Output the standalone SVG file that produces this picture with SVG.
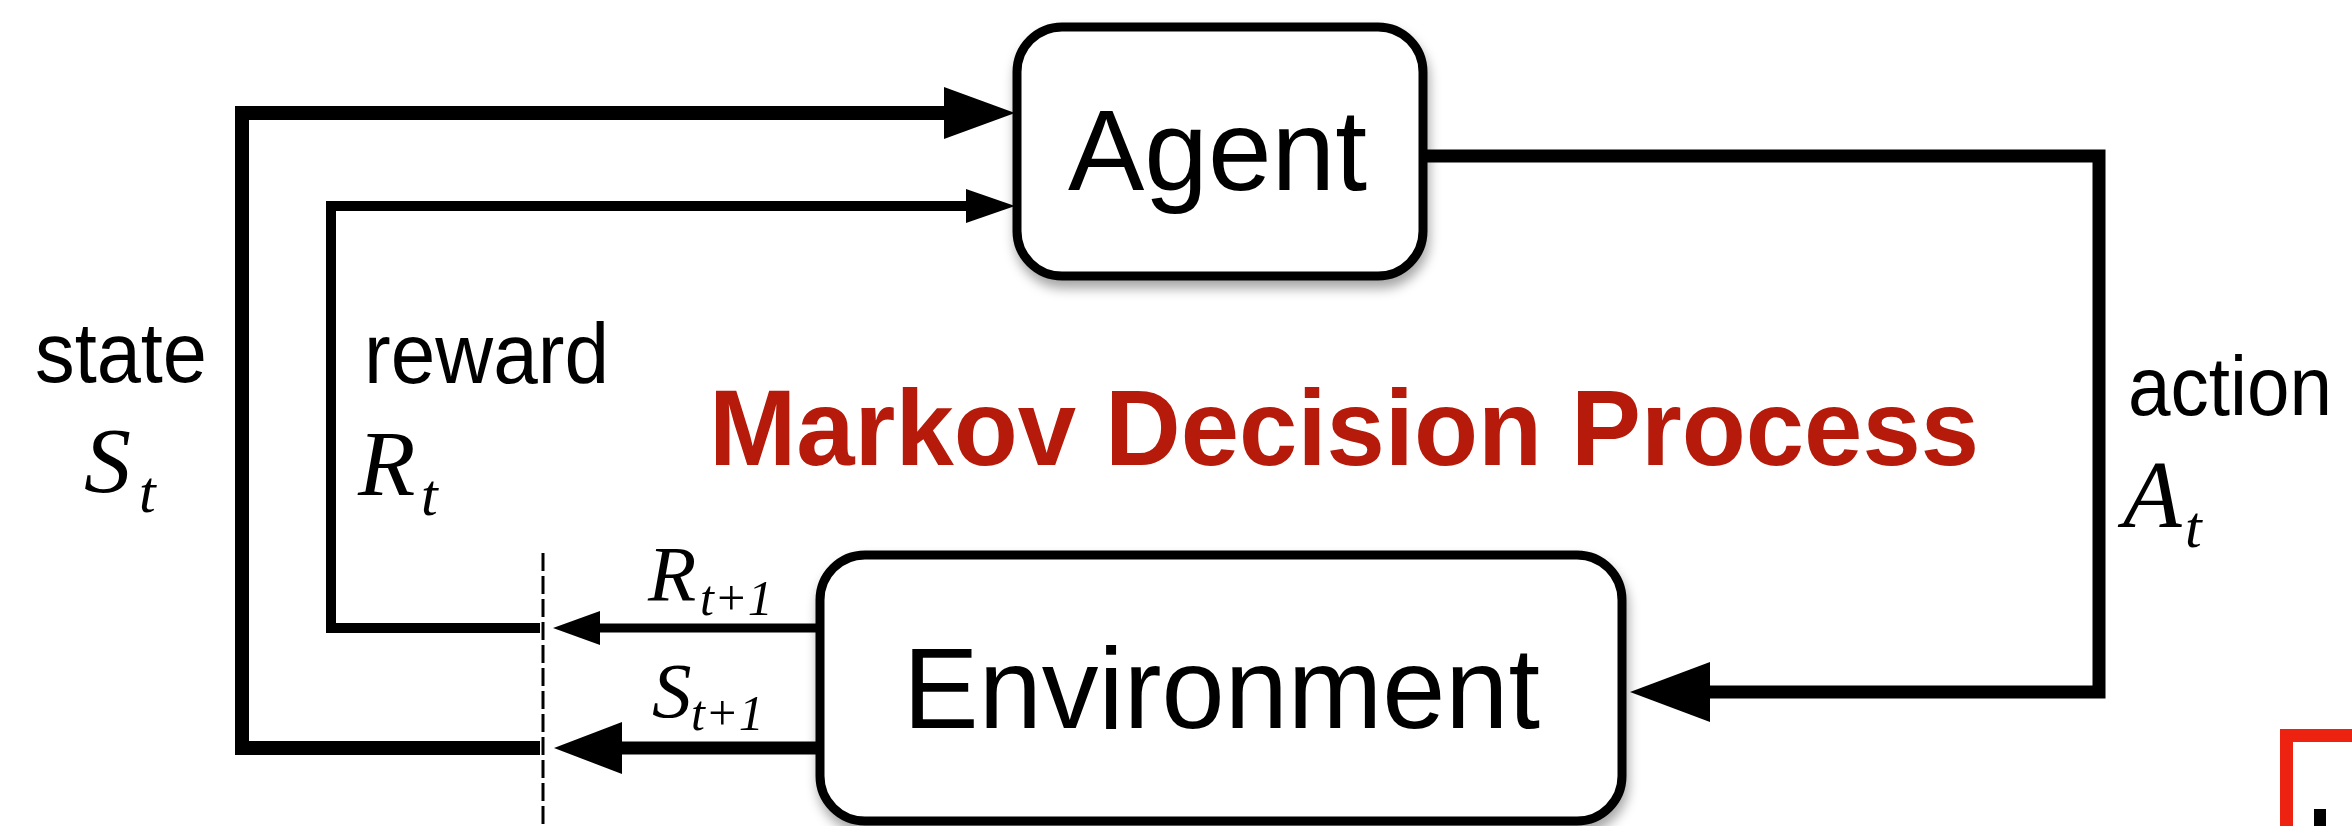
<svg xmlns="http://www.w3.org/2000/svg" width="2352" height="826" viewBox="0 0 2352 826">
<defs>
<filter id="sh" x="-10%" y="-10%" width="125%" height="130%">
<feDropShadow dx="2" dy="8" stdDeviation="6" flood-color="#000" flood-opacity="0.35"/>
</filter>
</defs>
<style>
.box{fill:#fff;stroke:#000;stroke-width:9}
.lbl{font-family:"Liberation Sans",Arial,sans-serif;fill:#000}
.node{font-family:"Liberation Sans",Arial,sans-serif;font-size:115px;fill:#000}
.math{font-family:"Liberation Serif","Times New Roman",serif;font-style:italic;fill:#000}
.ln{fill:none;stroke:#000;stroke-linejoin:miter}
.head{fill:#000}
.title{font-family:"Liberation Sans",Arial,sans-serif;font-weight:bold;font-size:108px;fill:#B51A0A}
</style>
<rect width="2352" height="826" fill="#fff"/>

<g id="connectors">
<path class="ln" d="M540 748 H242 V113 H950" stroke-width="14"/>
<polygon class="head" points="944,87 1015,113 944,139"/>
<path class="ln" d="M540 628 H331 V206 H970" stroke-width="10"/>
<polygon class="head" points="966,189 1015,206 966,223"/>
<path class="ln" d="M1423 156 H2099 V692 H1705" stroke-width="13"/>
<polygon class="head" points="1710,662 1630,692 1710,722"/>
<path class="ln" d="M820 628 H595" stroke-width="9"/>
<polygon class="head" points="600,611 553,628 600,645"/>
<path class="ln" d="M820 748 H615" stroke-width="13"/>
<polygon class="head" points="622,722 554,748 622,774"/>
<line x1="543" y1="553" x2="543" y2="826" stroke="#000" stroke-width="3" stroke-dasharray="18 5"/>
</g>

<g id="agent">
<rect class="box" x="1017" y="27" width="406" height="249" rx="45" filter="url(#sh)"/>
<text class="node" x="1068" y="190" textLength="299" lengthAdjust="spacingAndGlyphs">Agent</text>
</g>

<g id="environment">
<rect class="box" x="820" y="555" width="802" height="266" rx="45" filter="url(#sh)"/>
<text class="node" x="903" y="728" textLength="637" lengthAdjust="spacingAndGlyphs">Environment</text>
</g>

<g id="labels">
<text class="lbl" x="35" y="382" font-size="86" textLength="172" lengthAdjust="spacingAndGlyphs">state</text>
<text class="math" x="84" y="492" font-size="94">S</text>
<text class="math" x="139" y="512" font-size="60">t</text>
<text class="lbl" x="364" y="383" font-size="86" textLength="245" lengthAdjust="spacingAndGlyphs">reward</text>
<text class="math" x="358" y="495" font-size="94">R</text>
<text class="math" x="421" y="515" font-size="60">t</text>
<text class="lbl" x="2128" y="415" font-size="84" textLength="204" lengthAdjust="spacingAndGlyphs">action</text>
<text class="math" x="2123" y="527" font-size="96">A</text>
<text class="math" x="2185" y="547" font-size="60">t</text>
<text class="math" x="648" y="600" font-size="79">R</text>
<text class="math" x="700" y="615" font-size="50">t+1</text>
<text class="math" x="652" y="717" font-size="79">S</text>
<text class="math" x="691" y="730" font-size="50">t+1</text>
</g>

<text class="title" x="709" y="465" textLength="1270" lengthAdjust="spacingAndGlyphs">Markov Decision Process</text>

<g id="corner">
<path d="M2286.5 826 V735.5 H2352" fill="none" stroke="#EE2211" stroke-width="13"/>
<rect x="2314" y="809" width="12" height="17" fill="#000"/>
</g>
</svg>
